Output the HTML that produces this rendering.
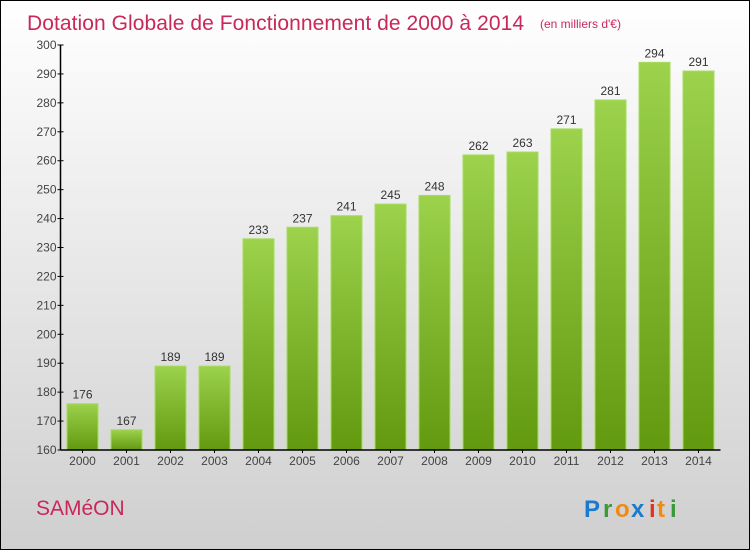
<!DOCTYPE html>
<html><head><meta charset="utf-8"><style>
body{margin:0}
#c{width:748px;height:548px;border:1px solid #000;background:linear-gradient(#ffffff,#cfcfcf);position:relative;font-family:"Liberation Sans",sans-serif}
</style></head><body>
<div id="c">
<svg id="s" width="748" height="548" style="position:absolute;left:0;top:0">
<defs><linearGradient id="g" x1="0" y1="0" x2="0" y2="1"><stop offset="0" stop-color="#9cd24c"/><stop offset="1" stop-color="#62990f"/></linearGradient></defs>
<text x="26" y="29" font-size="21" fill="#c8285a" textLength="497">Dotation Globale de Fonctionnement de 2000 à 2014</text>
<text x="539" y="27" font-size="12" fill="#c8285a">(en milliers d'€)</text>
<text x="35" y="514" font-size="21" fill="#c8285a">SAMéON</text>
<g font-size="24" font-weight="bold"><text x="583" y="516" fill="#1a7ad0">P</text><text x="602" y="516" fill="#3a9a3a">r</text><text x="614" y="516" fill="#f08a10">o</text><text x="630" y="516" fill="#1a7ad0">x</text><text x="648" y="516" fill="#e83020">i</text><text x="656" y="516" fill="#f08a10">t</text><text x="669" y="516" fill="#3a9a3a">i</text></g>
<g id="plot"></g>
</svg></div>
<script>
const categories=["2000","2001","2002","2003","2004","2005","2006","2007","2008","2009","2010","2011","2012","2013","2014"];
const values=[176,167,189,189,233,237,241,245,248,262,263,271,281,294,291];
const yTicks=[160,170,180,190,200,210,220,230,240,250,260,270,280,290,300];
const ns="http://www.w3.org/2000/svg";
const p=document.getElementById('plot');
const x0=59.5,band=44,yMin=160,yMax=300,yTop=44,yBot=449;
const y=v=>yBot-(v-yMin)/(yMax-yMin)*(yBot-yTop);
const xc=i=>x0+band*(i+0.5);
function mk(t,a){const e=document.createElementNS(ns,t);for(const k in a)e.setAttribute(k,a[k]);p.appendChild(e);return e;}
yTicks.forEach(t=>{
 const l=mk('line',{x1:x0-3,x2:x0+3,y1:y(t),y2:y(t),stroke:'#000'});
 
 
 const tx=mk('text',{x:x0-4,y:y(t)+4,'font-size':12,fill:'#444','text-anchor':'end'});tx.textContent=t;
 
 
});
values.forEach((v,i)=>{
 const r=mk('rect',{x:xc(i)-15.5,y:y(v),width:31,height:yBot-y(v),fill:'url(#g)',stroke:'#a8dc60','stroke-width':1});
 
 
 const t=mk('text',{x:xc(i),y:y(v)-5,'font-size':12,fill:'#333','text-anchor':'middle'});t.textContent=v;
 
 
 const c=mk('text',{x:xc(i),y:yBot+15,'font-size':12,fill:'#444','text-anchor':'middle'});c.textContent=categories[i];
 
 
 const tk=mk('line',{x1:xc(i),x2:xc(i),y1:yBot,y2:yBot+3,stroke:'#000'});
 
 
});
const ya=mk('line',{x1:x0,x2:x0,y1:yTop,y2:yBot,stroke:'#000','stroke-width':1.5});


const xa=mk('line',{x1:x0,x2:x0+band*categories.length,y1:yBot,y2:yBot,stroke:'#000','stroke-width':1.5});


</script>
</body></html>
